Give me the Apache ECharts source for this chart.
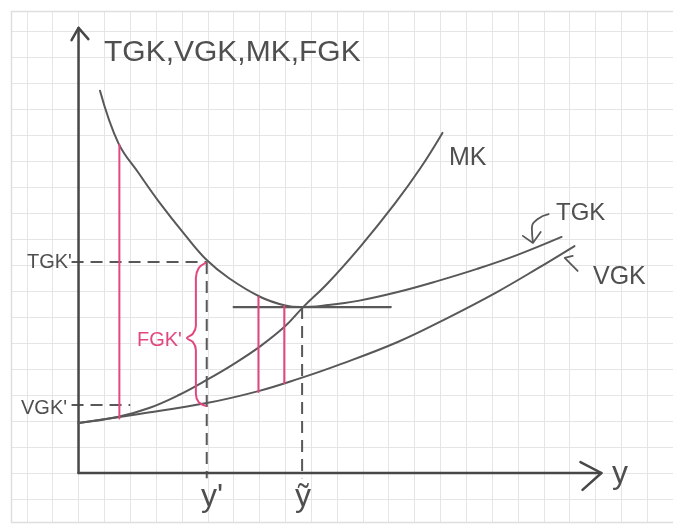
<!DOCTYPE html>
<html>
<head>
<meta charset="utf-8">
<script src="https://cdn.jsdelivr.net/npm/echarts@6/dist/echarts.min.js"></script>
<style>
  html, body { margin: 0; padding: 0; background: #ffffff; }
  #chart { width: 673px; height: 530px; }
</style>
</head>
<body>
<div id="chart"></div>
<script>
// Cost curves of a firm, in units of one squared-paper cell (x = output y, y = cost per unit)
const tgkCurve = [[0.83, 14.70], [1.54, 12.69], [2.35, 11.50], [3.12, 10.42], [4.15, 9.12],
  [4.96, 8.19], [5.81, 7.50], [7.04, 6.77], [8.00, 6.44], [8.58, 6.38], [9.65, 6.46],
  [10.81, 6.62], [12.35, 6.96], [13.88, 7.38], [15.42, 7.85], [16.96, 8.38], [18.69, 9.08]];
const vgkCurve = [[0.00, 1.92], [2.35, 2.27], [4.96, 2.69], [6.96, 3.15], [8.50, 3.62],
  [10.04, 4.15], [12.35, 5.04], [14.27, 5.96], [16.19, 6.96], [17.73, 7.85], [19.19, 8.73]];
const mkCurve = [[0.00, 1.92], [1.50, 2.15], [2.73, 2.50], [3.88, 3.00], [4.96, 3.58],
  [6.00, 4.19], [7.04, 4.88], [8.00, 5.65], [8.69, 6.38], [9.65, 7.31], [10.92, 8.73],
  [12.23, 10.35], [13.23, 11.73], [14.08, 13.08]];

// Key quantities
const yPrime = 4.96;      // output y'
const yTilde = 8.65;      // output at the minimum of TGK
const tgkPrime = 8.12;    // TGK at y'
const vgkPrime = 2.62;    // VGK level marked on the cost axis
const tgkMin = 6.38;      // minimum of TGK

// Fixed-cost gaps (x, top on TGK, bottom on VGK)
const fixedCostBars = [[1.58, 12.62, 2.10], [6.96, 6.77, 3.12], [7.96, 6.42, 3.45]];

// Curly brace spanning FGK' at y'
const bracePath = [[4.92, 8.08], [4.65, 7.88], [4.54, 7.50], [4.54, 5.65], [4.42, 5.35],
  [4.19, 5.19], [4.42, 5.04], [4.54, 4.73], [4.54, 3.04], [4.65, 2.73], [4.92, 2.58]];

// Hand-drawn axes and pointer arrows
const axisY = [[0, 0], [0, 17.12]];
const axisX = [[0, 0], [20.23, 0]];
const arrowY = [[-0.27, 16.65], [0, 17.12], [0.38, 16.69]];
const arrowX = [[19.42, 0.42], [20.23, 0], [19.50, -0.65]];
const tgkPointer = [[18.19, 9.96], [17.77, 9.77], [17.54, 9.42], [17.58, 8.88]];
const tgkPointerHead = [[17.19, 9.12], [17.58, 8.85], [17.88, 9.27]];
const vgkPointer = [[19.31, 7.77], [18.81, 8.27], [19.12, 8.35]];

const INK = '#585858';
const AXIS_INK = '#474747';
const PINK = '#e2487f';

function path(data, color, width, opts) {
  return Object.assign({
    type: 'line', data: data, symbol: 'none', clip: false, silent: true,
    lineStyle: { color: color, width: width, cap: 'round', join: 'round' },
    z: 5
  }, opts || {});
}
function curve(data) {
  return path(data, INK, 2, { smooth: 0.4 });
}
function dashed(data) {
  return path(data, INK, 2, { lineStyle: { color: INK, width: 2, type: [12, 7] } });
}

const series = [
  dashed([[-0.27, tgkPrime], [yPrime, tgkPrime]]),
  dashed([[-0.27, vgkPrime], [2.0, vgkPrime]]),
  dashed([[yPrime, tgkPrime], [yPrime, -0.2]]),
  dashed([[yTilde, tgkMin], [yTilde, -0.2]]),
  path(axisY, AXIS_INK, 2.5),
  path(axisX, AXIS_INK, 2.5),
  path(arrowY, AXIS_INK, 2.5),
  path(arrowX, AXIS_INK, 2.5),
  curve(tgkCurve),
  curve(vgkCurve),
  curve(mkCurve),
  path([[6.0, tgkMin], [12.08, tgkMin]], INK, 2.2),
  path(tgkPointer, INK, 1.8, { smooth: 0.5 }),
  path(tgkPointerHead, INK, 1.8),
  path(vgkPointer, INK, 1.8),
  path(bracePath, PINK, 2, { smooth: 0.35 })
];
fixedCostBars.forEach(function (b) {
  series.push(path([[b[0], b[1]], [b[0], b[2]]], PINK, 2));
});

const FONT = 'Liberation Sans';
function label(text, x, y, size, color) {
  return {
    type: 'text', x: x, y: y, z: 20,
    style: { text: text, fontSize: size, fontFamily: FONT, fill: color || '#4f4f4f',
      verticalAlign: 'middle' }
  };
}

const chart = echarts.init(document.getElementById('chart'), null, { renderer: 'canvas' });
chart.setOption({
  animation: false,
  backgroundColor: '#ffffff',
  grid: { left: 1, top: 5, width: 676, height: 520, containLabel: false },
  xAxis: {
    type: 'value', min: -3, max: 23, interval: 1,
    axisLine: { show: false }, axisTick: { show: false }, axisLabel: { show: false },
    splitLine: { show: true, lineStyle: { color: '#e5e5e5', width: 1 } }
  },
  yAxis: {
    type: 'value', min: -2, max: 18, interval: 1,
    axisLine: { show: false }, axisTick: { show: false }, axisLabel: { show: false },
    splitLine: { show: true, lineStyle: { color: '#e5e5e5', width: 1 } }
  },
  graphic: [
    // page margin around the sheet of squared paper
    { type: 'rect', z: 1, shape: { x: 0, y: 0, width: 673, height: 11 }, style: { fill: '#ffffff' } },
    { type: 'rect', z: 1, shape: { x: 0, y: 0, width: 11, height: 530 }, style: { fill: '#ffffff' } },
    { type: 'rect', z: 1, shape: { x: 0, y: 523, width: 673, height: 7 }, style: { fill: '#ffffff' } },
    { type: 'rect', z: 1, shape: { x: 11.5, y: 11.5, width: 680, height: 511 },
      style: { fill: 'none', stroke: '#dedede', lineWidth: 1.5 } },
    label('TGK,VGK,MK,FGK', 104, 53, 30),
    label('MK', 449, 158, 25),
    label('TGK', 556, 213, 24),
    label('VGK', 593, 277, 25),
    label("TGK'", 27, 262, 20),
    label("VGK'", 21, 408, 20),
    label("FGK'", 137, 340, 20, PINK),
    label("y'", 201, 497, 32),
    label('ỹ', 295, 497, 32),
    label('y', 612, 474, 32)
  ],
  series: series
});
</script>
</body>
</html>
